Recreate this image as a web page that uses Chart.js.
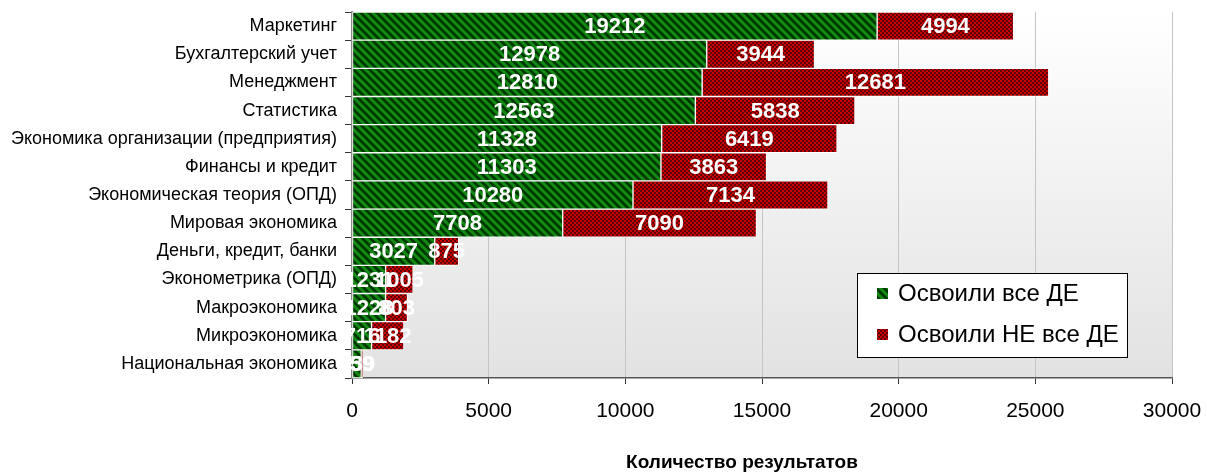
<!DOCTYPE html>
<html>
<head>
<meta charset="utf-8">
<script src="https://cdn.jsdelivr.net/npm/chart.js@4"></script>
<style>
  html, body { margin: 0; padding: 0; background: #fff; }
  #wrap { width: 1207px; height: 473px; position: relative; }
</style>
</head>
<body>
<div id="wrap"><canvas id="chart"></canvas></div>
<script>
// Data
const categories = [
    'Маркетинг',
    'Бухгалтерский учет',
    'Менеджмент',
    'Статистика',
    'Экономика организации (предприятия)',
    'Финансы и кредит',
    'Экономическая теория (ОПД)',
    'Мировая экономика',
    'Деньги, кредит, банки',
    'Эконометрика (ОПД)',
    'Макроэкономика',
    'Микроэкономика',
    'Национальная экономика'
];
const mastered = [19212, 12978, 12810, 12563, 11328, 11303, 10280, 7708, 3027, 1231, 1228, 716, 339];
const notMastered = [4994, 3944, 12681, 5838, 6419, 3863, 7134, 7090, 875, 1005, 803, 1182, 59];
const seriesNames = ['Освоили все ДЕ', 'Освоили НЕ все ДЕ'];
const xTicks = [0, 5000, 10000, 15000, 20000, 25000, 30000];
const axisTitle = 'Количество результатов';

const FONT = '"Liberation Sans", Arial, sans-serif';

// Hatched green fill
function makeGreenPattern() {
    const c = document.createElement('canvas');
    c.width = 8; c.height = 8;
    const g = c.getContext('2d');
    g.fillStyle = '#003600';
    g.fillRect(0, 0, 8, 8);
    g.strokeStyle = '#138a13';
    g.lineWidth = 3;
    g.beginPath();
    g.moveTo(-2, -2); g.lineTo(10, 10);
    g.moveTo(-6, 2); g.lineTo(2, 10);
    g.moveTo(2, -6); g.lineTo(10, 2);
    g.stroke();
    return g.createPattern(c, 'repeat');
}

// Checkered red fill
function makeRedPattern() {
    const c = document.createElement('canvas');
    c.width = 4; c.height = 4;
    const g = c.getContext('2d');
    g.fillStyle = '#c80000';
    g.fillRect(0, 0, 4, 4);
    g.fillStyle = '#5e0000';
    g.fillRect(2, 0, 2, 2);
    g.fillRect(0, 2, 2, 2);
    return g.createPattern(c, 'repeat');
}

const greenFill = makeGreenPattern();
const redFill = makeRedPattern();

// Plot area gradient background
const plotBackground = {
    id: 'plotBackground',
    beforeDraw(chart) {
        const { ctx, chartArea: a } = chart;
        const grad = ctx.createLinearGradient(0, a.top, 0, a.bottom);
        grad.addColorStop(0, '#ffffff');
        grad.addColorStop(1, '#e2e2e2');
        ctx.save();
        ctx.fillStyle = grad;
        ctx.fillRect(a.left, a.top, a.right - a.left, a.bottom - a.top);
        ctx.restore();
    }
};

// Value labels in the middle of each bar
const barLabels = {
    id: 'barLabels',
    afterDatasetsDraw(chart) {
        const ctx = chart.ctx;
        ctx.save();
        ctx.font = 'bold 22px ' + FONT;
        ctx.fillStyle = '#ffffff';
        ctx.textAlign = 'center';
        ctx.textBaseline = 'middle';
        chart.data.datasets.forEach((ds, i) => {
            const meta = chart.getDatasetMeta(i);
            meta.data.forEach((bar, j) => {
                const cx = (bar.x + bar.base) / 2;
                ctx.fillText(String(ds.data[j]), cx, bar.y + 1);
            });
        });
        ctx.restore();
    }
};

// Boxed legend inside the plot, plus the x axis title
const boxLegend = {
    id: 'boxLegend',
    afterDraw(chart) {
        const ctx = chart.ctx;
        const x = 857, y = 273, w = 270, h = 84;
        ctx.save();
        ctx.fillStyle = '#ffffff';
        ctx.fillRect(x, y, w, h);
        ctx.strokeStyle = '#000000';
        ctx.lineWidth = 1;
        ctx.strokeRect(x + 0.5, y + 0.5, w, h);
        ctx.font = '24px ' + FONT;
        ctx.textBaseline = 'middle';
        ctx.textAlign = 'left';
        const fills = [greenFill, redFill];
        seriesNames.forEach((name, i) => {
            const cy = y + 20 + i * 41;
            ctx.fillStyle = fills[i];
            ctx.fillRect(877, cy - 5, 11, 11);
            ctx.fillStyle = '#000000';
            ctx.fillText(name, 898, cy + 1);
        });

        ctx.font = 'bold 19px ' + FONT;
        ctx.textAlign = 'center';
        ctx.fillText(axisTitle, 742, 463);
        ctx.restore();
    }
};

new Chart(document.getElementById('chart'), {
    type: 'bar',
    data: {
        labels: categories,
        datasets: [{
            label: seriesNames[0],
            data: mastered,
            backgroundColor: greenFill,
            borderColor: '#ffffff',
            borderWidth: 1,
            borderSkipped: false,
            categoryPercentage: 1,
            barPercentage: 1
        }, {
            label: seriesNames[1],
            data: notMastered,
            backgroundColor: redFill,
            borderColor: '#ffffff',
            borderWidth: 1,
            borderSkipped: false,
            categoryPercentage: 1,
            barPercentage: 1
        }]
    },
    options: {
        indexAxis: 'y',
        responsive: true,
        maintainAspectRatio: false,
        animation: false,
        layout: { padding: { top: 12, right: 35, left: 0, bottom: 0 } },
        plugins: {
            legend: { display: false },
            tooltip: { enabled: false }
        },
        scales: {
            x: {
                stacked: true,
                min: 0,
                max: 30000,
                afterBuildTicks(scale) {
                    scale.ticks = xTicks.map(v => ({ value: v }));
                },
                afterFit(scale) {
                    scale.height = 95;
                    scale.paddingLeft = 0;
                    scale.paddingRight = 0;
                },
                grid: {
                    color: '#c4c4c4',
                    tickColor: '#333333',
                    tickLength: 6
                },
                border: { color: '#555555', width: 1.5 },
                ticks: {
                    color: '#000000',
                    font: { family: FONT, size: 21 },
                    padding: 15,
                    maxRotation: 0,
                    callback: value => String(value)
                }
            },
            y: {
                stacked: true,
                afterFit(scale) {
                    scale.width = 352;
                    scale.paddingTop = 0;
                    scale.paddingBottom = 0;
                },
                grid: {
                    offset: true,
                    drawOnChartArea: false,
                    tickLength: 7,
                    tickColor: '#333333'
                },
                border: { color: '#888888', width: 2 },
                ticks: {
                    color: '#000000',
                    font: { family: FONT, size: 18 },
                    padding: 8,
                    autoSkip: false
                }
            }
        }
    },
    plugins: [plotBackground, barLabels, boxLegend]
});
</script>
</body>
</html>
